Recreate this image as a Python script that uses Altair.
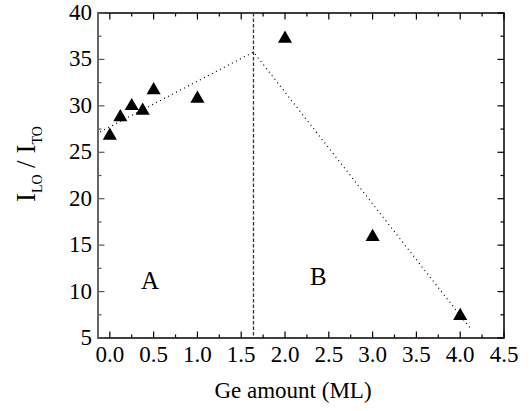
import altair as alt
import pandas as pd

# ---- data ----
ge_amount = [0.0, 0.12, 0.25, 0.375, 0.5, 1.0, 2.0, 3.0, 4.0]
lo_to_ratio = [27.0, 29.0, 30.2, 29.7, 31.9, 31.0, 37.45, 16.1, 7.6]

fit_x = [-0.11, 1.64, 4.11]
fit_y = [27.2, 35.8, 6.1]

boundary_x = [1.64]

region_names = ["A", "B"]
region_x = [0.46, 2.38]
region_y = [11.1, 11.6]

x_major = [0.0, 0.5, 1.0, 1.5, 2.0, 2.5, 3.0, 3.5, 4.0, 4.5]
x_minor = [0.25, 0.75, 1.25, 1.75, 2.25, 2.75, 3.25, 3.75, 4.25]
y_major = [5, 10, 15, 20, 25, 30, 35, 40]
y_minor = [7.5, 12.5, 17.5, 22.5, 27.5, 32.5, 37.5]

x_title = "Ge amount (ML)"

W, H = 406, 325
FONT = "Liberation Serif"
LBL = 23

pts = pd.DataFrame({"x": ge_amount, "y": lo_to_ratio})
fit = pd.DataFrame({"x": fit_x, "y": fit_y})
bnd = pd.DataFrame({"x": boundary_x})
regions = pd.DataFrame({"x": region_x, "y": region_y, "t": region_names})
xmaj = pd.DataFrame({"x": x_major})
xmin = pd.DataFrame({"x": x_minor})
ymaj = pd.DataFrame({"y": y_major})
ymin = pd.DataFrame({"y": y_minor})

xscale = alt.Scale(domain=[-0.135, 4.5], nice=False, zero=False)
yscale = alt.Scale(domain=[5, 40], nice=False, zero=False)

points = alt.Chart(pts).mark_point(shape="triangle-up", filled=True, color="black",
                                   size=200, opacity=1).encode(
    x=alt.X("x:Q", scale=xscale, axis=None),
    y=alt.Y("y:Q", scale=yscale, axis=None),
)

fit_line = alt.Chart(fit).mark_line(color="black", strokeWidth=1.2,
                                     strokeDash=[1, 3.5]).encode(
    x=alt.X("x:Q", scale=xscale), y=alt.Y("y:Q", scale=yscale))

vline = alt.Chart(bnd).mark_rule(color="#333333", strokeWidth=1.3,
                                 strokeDash=[3.5, 2]).encode(
    x=alt.X("x:Q", scale=xscale), y=alt.value(0), y2=alt.value(H))

labels = alt.Chart(regions).mark_text(font=FONT, fontSize=25, color="black",
                                      baseline="middle", align="center").encode(
    x=alt.X("x:Q", scale=xscale), y=alt.Y("y:Q", scale=yscale), text="t:N")

def xticks(df, length):
    bottom = alt.Chart(df).mark_rule(color="black", strokeWidth=1.2).encode(
        x=alt.X("x:Q", scale=xscale), y=alt.value(H), y2=alt.value(H - length))
    top = alt.Chart(df).mark_rule(color="black", strokeWidth=1.2).encode(
        x=alt.X("x:Q", scale=xscale), y=alt.value(0), y2=alt.value(length))
    return [bottom, top]

def yticks(df, length):
    left = alt.Chart(df).mark_rule(color="#555555", strokeWidth=1.2).encode(
        y=alt.Y("y:Q", scale=yscale), x=alt.value(0), x2=alt.value(length))
    right = alt.Chart(df).mark_rule(color="black", strokeWidth=1.2).encode(
        y=alt.Y("y:Q", scale=yscale), x=alt.value(W), x2=alt.value(W - length))
    return [left, right]

tick_layers = xticks(xmaj, 6.5) + xticks(xmin, 3.5) + yticks(ymaj, 6.5) + yticks(ymin, 3.5)

# left frame edge is grey in the reference
left_edge = alt.Chart(pd.DataFrame({"k": [0]})).mark_rule(color="#666666", strokeWidth=2).encode(
    x=alt.value(0), y=alt.value(0), y2=alt.value(H))

# tick labels as text (serif)
xlabels = alt.Chart(xmaj).mark_text(font=FONT, fontSize=LBL, color="black",
                                    align="center", baseline="alphabetic").encode(
    x=alt.X("x:Q", scale=xscale), y=alt.value(H + 24),
    text=alt.Text("x:Q", format=".1f"))
ylabels = alt.Chart(ymaj).mark_text(font=FONT, fontSize=LBL, color="black",
                                    align="right", baseline="middle").encode(
    y=alt.Y("y:Q", scale=yscale), x=alt.value(-6),
    text=alt.Text("y:Q", format="d"))

tdf = pd.DataFrame({"k": [0]})
xtitle = alt.Chart(tdf).mark_text(text=x_title, font=FONT, fontSize=23, color="black",
                                  align="center", baseline="alphabetic").encode(
    x=alt.value(195), y=alt.value(385))

# y-axis title with subscripts: I_LO / I_TO
def ttext(txt, size, xpx, ypx):
    return alt.Chart(tdf).mark_text(text=txt, font=FONT, fontSize=size, color="black",
                                    angle=270, align="left", baseline="alphabetic").encode(
        x=alt.value(xpx), y=alt.value(ypx))

title_layers = [
    ttext("I", 27, -63, 189),
    ttext("LO", 14, -56, 180),
    ttext("/", 27, -63, 155),
    ttext("I", 27, -63, 140.5),
    ttext("TO", 14, -56, 131.5),
]

chart = alt.layer(points, vline, fit_line, *tick_layers, left_edge, labels,
                  xlabels, ylabels, xtitle, *title_layers).properties(
    width=W, height=H,
    autosize=alt.AutoSizeParams(type="none"),
    padding={"left": 98, "top": 13, "right": 25, "bottom": 73},
    background="white",
).configure_view(stroke="black", strokeWidth=1.5)

chart.save("out.html", embed_options={"renderer": "svg", "actions": False})
